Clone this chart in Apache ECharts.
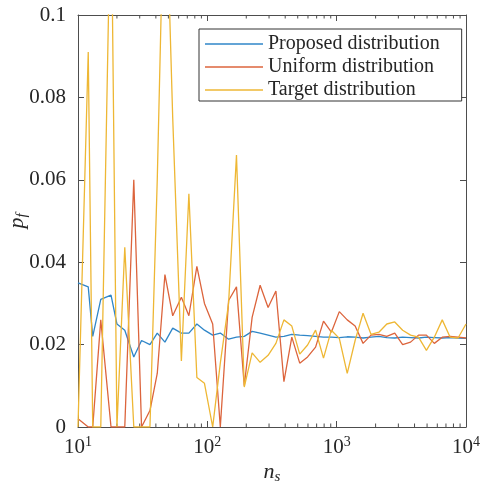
<!DOCTYPE html>
<html>
<head>
<meta charset="utf-8">
<script src="https://cdn.jsdelivr.net/npm/echarts@6/dist/echarts.min.js"></script>
<style>
  html, body { margin: 0; padding: 0; background: #fff; }
  #main { width: 480px; height: 490px; }
</style>
</head>
<body>
<div id="main"></div>
<script>
// sample sizes n_s (log spaced, 50 points)
var nS = [10, 12, 13, 15, 18, 20, 23, 27, 31, 36, 41, 47, 54, 63, 72, 83, 95, 110, 126, 146,
  168, 193, 222, 256, 295, 339, 391, 450, 518, 596, 687, 791, 910, 1048, 1207, 1389, 1600,
  1842, 2121, 2442, 2812, 3237, 3728, 4292, 4942, 5690, 6551, 7543, 8685, 10000];

var proposed = [0.035, 0.034, 0.022, 0.031, 0.032, 0.025, 0.0235, 0.017, 0.021, 0.020,
  0.0228, 0.0206, 0.024, 0.0228, 0.0228, 0.025, 0.0235, 0.0223, 0.0228, 0.0213,
  0.0218, 0.022, 0.0232, 0.0228, 0.0223, 0.0218, 0.022, 0.0225, 0.0223, 0.0222,
  0.022, 0.0218, 0.0218, 0.0217, 0.0219, 0.0218, 0.0216, 0.0218, 0.022, 0.0217,
  0.0216, 0.0218, 0.0217, 0.0216, 0.0218, 0.0217, 0.0216, 0.0217, 0.0216, 0.0215];

var uniform = [0.002, 0, 0, 0.026, 0, 0, 0, 0.06, 0, 0.004,
  0.013, 0.037, 0.027, 0.0315, 0.027, 0.039, 0.030, 0.025, 0, 0.0307,
  0.034, 0.010, 0.0266, 0.0344, 0.029, 0.033, 0.011, 0.0218, 0.0155, 0.017,
  0.0194, 0.0257, 0.023, 0.028, 0.026, 0.0245, 0.0203, 0.0223, 0.0225, 0.022,
  0.0228, 0.020, 0.0206, 0.0223, 0.0223, 0.0203, 0.0218, 0.022, 0.0218, 0.0216];

var target = [0, 0.091, 0, 0, 0.133, 0, 0.0436, 0, 0, 0,
  0.06, 0.14, 0.075, 0.016, 0.0566, 0.012, 0.0106, 0, 0.0155, 0.030,
  0.066, 0.0097, 0.018, 0.0157, 0.0174, 0.0203, 0.026, 0.0245, 0.0177, 0.0199,
  0.0235, 0.0167, 0.0235, 0.0215, 0.013, 0.021, 0.0276, 0.0225, 0.023, 0.025,
  0.0255, 0.0235, 0.0223, 0.0218, 0.0186, 0.0218, 0.026, 0.0218, 0.0216, 0.025];

var seriesNames = ['Proposed distribution', 'Uniform distribution', 'Target distribution'];
var minorTicks = [20, 30, 40, 50, 60, 70, 80, 90, 200, 300, 400, 500, 600, 700, 800, 900,
  2000, 3000, 4000, 5000, 6000, 7000, 8000, 9000];

var serif = 'Liberation Serif';
var axisColor = '#4d4d4d';
var textColor = '#262626';

function pairs(ys) {
  return nS.map(function(x, i) { return [x, ys[i]]; });
}

var chart = echarts.init(document.getElementById('main'));

var xAxisBase = {
  type: 'log',
  logBase: 10,
  min: 10,
  max: 10000,
  axisLine: { show: true, onZero: false, lineStyle: { color: axisColor, width: 1 } },
  axisTick: { show: true, inside: true, length: 6, lineStyle: { color: axisColor } },
  splitLine: { show: false },
  minorTick: { show: false }
};

var yAxisBase = {
  type: 'value',
  min: 0,
  max: 0.1,
  interval: 0.02,
  axisLine: { show: true, onZero: false, lineStyle: { color: axisColor, width: 1 } },
  axisTick: { show: true, inside: true, length: 6, lineStyle: { color: axisColor } },
  splitLine: { show: false }
};

var option = {
  animation: false,
  backgroundColor: '#ffffff',
  grid: { left: 78, right: 14, top: 15, bottom: 63, containLabel: false, outerBoundsMode: 'none' },
  legend: {
    data: seriesNames,
    orient: 'vertical',
    left: 199,
    top: 29,
    icon: 'rect',
    itemWidth: 58,
    itemHeight: 1.5,
    itemGap: 3,
    padding: [5, 22, 1, 6],
    borderColor: '#333333',
    borderWidth: 1,
    backgroundColor: '#ffffff',
    textStyle: { fontFamily: serif, fontSize: 20, color: textColor, lineHeight: 20 }
  },
  xAxis: [
    Object.assign({}, xAxisBase, {
      position: 'bottom',
      axisLabel: {
        margin: 8,
        formatter: function(v) {
          return '{b|10}{s|' + Math.round(Math.log10(v)) + '}';
        },
        rich: {
          b: { fontFamily: serif, fontSize: 21, color: textColor, lineHeight: 24 },
          s: { fontFamily: serif, fontSize: 14, color: textColor, lineHeight: 14, verticalAlign: 'top' }
        }
      },
      name: '{i|n}{s|s}',
      nameLocation: 'middle',
      nameGap: 32,
      nameMoveOverlap: false,
      nameTextStyle: {
        rich: {
          i: { fontFamily: serif, fontStyle: 'italic', fontSize: 22, color: textColor, lineHeight: 26 },
          s: { fontFamily: serif, fontStyle: 'italic', fontSize: 15, color: textColor, lineHeight: 15, verticalAlign: 'bottom' }
        }
      }
    }),
    Object.assign({}, xAxisBase, {
      position: 'top',
      axisLabel: { show: false }
    })
  ],
  yAxis: [
    Object.assign({}, yAxisBase, {
      position: 'left',
      axisLabel: { margin: 12, fontFamily: serif, fontSize: 21, color: textColor },
      name: '{i|p}{s|f}',
      nameLocation: 'middle',
      nameGap: 48,
      nameRotate: 90,
      nameMoveOverlap: false,
      nameTextStyle: {
        rich: {
          i: { fontFamily: serif, fontStyle: 'italic', fontSize: 22, color: textColor, lineHeight: 26 },
          s: { fontFamily: serif, fontStyle: 'italic', fontSize: 15, color: textColor, lineHeight: 15, verticalAlign: 'bottom' }
        }
      }
    }),
    Object.assign({}, yAxisBase, {
      position: 'right',
      axisLabel: { show: false }
    })
  ],
  series: [
    {
      name: seriesNames[0], type: 'line', data: pairs(proposed),
      showSymbol: false, symbol: 'none', clip: true,
      color: '#2f86c8', lineStyle: { width: 1.3 }
    },
    {
      name: seriesNames[1], type: 'line', data: pairs(uniform),
      showSymbol: false, symbol: 'none', clip: true,
      color: '#dc643c', lineStyle: { width: 1.3 }
    },
    {
      name: seriesNames[2], type: 'line', data: pairs(target),
      showSymbol: false, symbol: 'none', clip: true,
      color: '#eeb734', lineStyle: { width: 1.3 }
    },
    // minor log ticks on bottom and top edges
    {
      type: 'custom',
      silent: true,
      data: minorTicks.map(function(v) { return [v, 0]; }),
      renderItem: function(params, api) {
        var v = api.value(0);
        var b = api.coord([v, 0]);
        var t = api.coord([v, 0.1]);
        var st = { stroke: axisColor, lineWidth: 1 };
        return {
          type: 'group',
          children: [
            { type: 'line', shape: { x1: b[0], y1: b[1], x2: b[0], y2: b[1] - 3.5 }, style: st },
            { type: 'line', shape: { x1: t[0], y1: t[1], x2: t[0], y2: t[1] + 3.5 }, style: st }
          ]
        };
      }
    }
  ]
};

chart.setOption(option);
</script>
</body>
</html>
